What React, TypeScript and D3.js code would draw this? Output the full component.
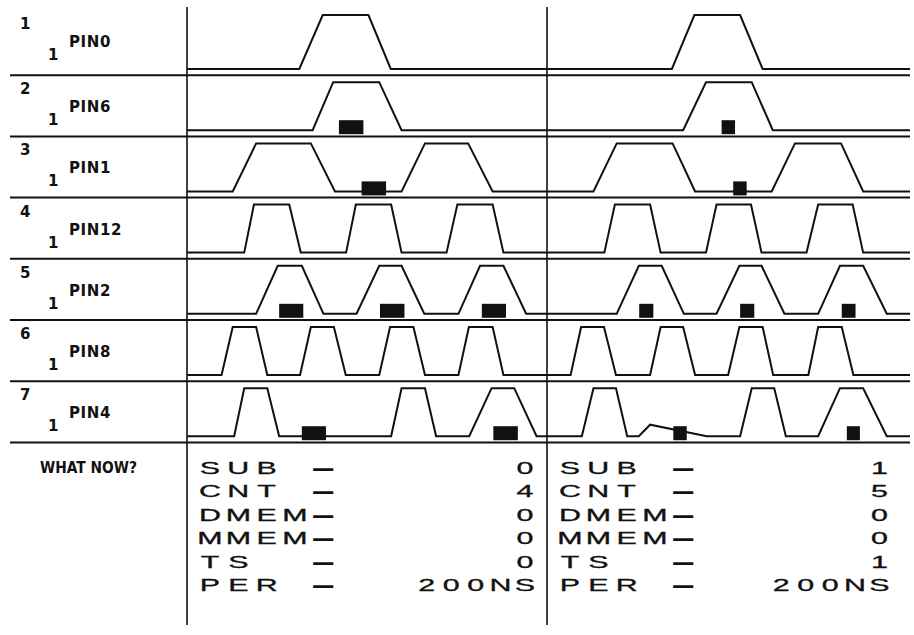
import React from "react";
import * as d3 from "d3";

// ---- data ----
const channelNumbers = ["1", "2", "3", "4", "5", "6", "7"];
const channelGroups = ["1", "1", "1", "1", "1", "1", "1"];
const channelNames = ["PIN0", "PIN6", "PIN1", "PIN12", "PIN2", "PIN8", "PIN4"];

// pulses per channel: [riseStart, highStart, highEnd, fallEnd] in time units (0-100 per screen)
const leftPulses: number[][][] = [
  [[31.2, 37.7, 50.4, 56.6]],
  [[34.9, 40.6, 53.4, 59.6]],
  [[12.7, 19.2, 34.4, 41.1], [59.6, 66.1, 78.1, 84.9]],
  [[15.9, 18.6, 28.4, 31.6], [44.2, 46.9, 56.7, 59.6], [72.1, 75.1, 84.9, 87.9]],
  [[19.2, 25.2, 31.9, 37.9], [47.1, 53.4, 59.6, 65.9], [75.4, 81.4, 87.9, 94.2]],
  [[9.6, 12.7, 19.2, 22.3], [31.4, 34.4, 40.8, 44.1], [53.4, 56.4, 62.9, 66.1], [75.4, 78.3, 84.9, 87.9]],
  [[13.1, 15.9, 22.3, 25.6], [56.7, 59.6, 66.1, 69.2], [78.4, 84.6, 90.9, 97.1]],
];
const rightPulses: number[][][] = [
  [[34.4, 40.6, 53.2, 59.4]],
  [[37.5, 43.8, 56.4, 62.2]],
  [[12.8, 19.2, 34.6, 40.8], [61.9, 68.3, 81.0, 87.1]],
  [[15.8, 18.7, 28.4, 31.3], [43.8, 46.7, 56.2, 59.1], [71.5, 74.7, 84.2, 87.1]],
  [[19.2, 25.3, 31.6, 37.7], [46.7, 53.0, 59.1, 65.4], [74.7, 80.7, 87.1, 93.6]],
  [[6.5, 9.4, 15.7, 19.0], [28.4, 31.3, 37.5, 40.8], [49.9, 53.0, 59.4, 62.3], [72.0, 74.7, 81.2, 84.4]],
  [[9.6, 12.8, 19.0, 22.1], [53.2, 56.4, 62.6, 65.8], [74.7, 80.7, 87.1, 93.6]],
];
// extra vertices (channel index, time, level) — the glitch on PIN4, right screen
const leftGlitch: number[][] = [];
const rightGlitch: number[][] = [
  [6, 25.3, 0],
  [6, 28.4, 0.24],
  [6, 44.0, 0],
];
// cursor blocks: [channel index, tStart, tEnd]
const leftCursors: number[][] = [
  [1, 42.2, 49.0],
  [2, 48.5, 55.3],
  [4, 25.6, 32.3],
  [4, 53.6, 60.4],
  [4, 81.9, 88.6],
  [6, 31.9, 38.6],
  [6, 85.1, 91.9],
];
const rightCursors: number[][] = [
  [1, 48.1, 51.8],
  [2, 51.3, 55.0],
  [4, 25.4, 29.3],
  [4, 53.2, 57.1],
  [4, 81.2, 85.0],
  [6, 34.8, 38.5],
  [6, 82.6, 86.2],
];
const statusLabels = ["SUB", "CNT", "DMEM", "MMEM", "TS", "PER"];
const statusDash = "\u2013";
const leftStatus = ["0", "4", "0", "0", "0", "200NS"];
const rightStatus = ["1", "5", "0", "0", "1", "200NS"];
const promptText = "WHAT NOW?";

// ---- layout ----
const W = 914;
const H = 635;
const INK = "#111";
const rowStep = 61.2;
const rowsTop = 14;
const panelLeft = [187, 547];
const panelRight = [547, 910];

const rowBand = d3
  .scaleBand<string>()
  .domain(channelNames)
  .range([rowsTop, rowsTop + rowStep * channelNames.length])
  .padding(0);

const timeScales = [
  d3.scaleLinear().domain([0, 100]).range([panelLeft[0], panelRight[0]]),
  d3.scaleLinear().domain([0, 100]).range([panelLeft[1], panelRight[1]]),
];

function levelScale(i: number) {
  const top = rowBand(channelNames[i]) as number;
  const low = top + 55;
  const high = i === 0 ? top + 1 : top + 7;
  return d3.scaleLinear().domain([0, 1]).range([low, high]);
}

function wavePoints(pulses: number[][], glitch: number[][], i: number): [number, number][] {
  const pts: [number, number][] = [[0, 0]];
  pulses.forEach(([a, b, c, d]) => {
    pts.push([a, 0], [b, 1], [c, 1], [d, 0]);
  });
  glitch.filter((g) => g[0] === i).forEach((g) => pts.push([g[1], g[2]]));
  pts.push([100, 0]);
  pts.sort((p, q) => p[0] - q[0]);
  return pts;
}

const sansFont = "'Liberation Sans', Arial, sans-serif";
const boldFont = "'DejaVu Sans', 'Liberation Sans', sans-serif";

// text laid on a fixed character grid: each glyph centred in its cell,
// stretched horizontally by sx
function GridText(props: {
  text: string;
  center0: number;
  pitch: number;
  y: number;
  sx?: number;
  [k: string]: any;
}) {
  const { text, center0, pitch, y, sx = 1, ...rest } = props;
  const chars = Array.from(text);
  return (
    <g>
      {chars.map((ch, k) =>
        ch === " " ? null : (
          <g key={k} transform={`translate(${(center0 + pitch * k).toFixed(2)},${y}) scale(${sx},1)`}>
            <text x={0} y={0} textAnchor="middle" {...rest}>
              {ch}
            </text>
          </g>
        )
      )}
    </g>
  );
}

function Panel({ p }: { p: number }) {
  const xs = timeScales[p];
  const pulsesAll = p === 0 ? leftPulses : rightPulses;
  const glitch = p === 0 ? leftGlitch : rightGlitch;
  const cursors = p === 0 ? leftCursors : rightCursors;
  return (
    <g>
      {channelNames.map((name, i) => {
        const ys = levelScale(i);
        const line = d3
          .line<[number, number]>()
          .x((d) => xs(d[0]))
          .y((d) => ys(d[1]));
        return (
          <path
            key={name}
            d={line(wavePoints(pulsesAll[i], glitch, i)) || ""}
            fill="none"
            stroke={INK}
            strokeWidth={2}
            strokeLinejoin="miter"
          />
        );
      })}
      {cursors.map(([ci, t0, t1], k) => {
        const low = levelScale(ci)(0);
        return (
          <rect
            key={k}
            x={xs(t0)}
            y={low - 10}
            width={xs(t1) - xs(t0)}
            height={14}
            fill={INK}
          />
        );
      })}
    </g>
  );
}

function StatusBlock({ p }: { p: number }) {
  const values = p === 0 ? leftStatus : rightStatus;
  const labelC0 = panelLeft[p] + 23;
  const lastValueC = p === 0 ? 525 : 879.5;
  const fs = 16;
  const sx = 1.9;
  const labelPitch = 28.3;
  const valuePitch = 24.6;
  return (
    <g fontFamily={sansFont} fontSize={fs} fill={INK}>
      {statusLabels.map((lab, k) => {
        const y = 474 + 23.4 * k;
        const v = values[k];
        return (
          <g key={lab}>
            <GridText text={lab} center0={labelC0} pitch={labelPitch} y={y} sx={sx} stroke={INK} strokeWidth={0.3} />
            <GridText
              text={statusDash}
              center0={labelC0 + 4 * labelPitch}
              pitch={labelPitch}
              y={y}
              sx={sx}
              stroke={INK}
              strokeWidth={1.7}
            />
            <GridText
              text={v}
              center0={lastValueC - (v.length - 1) * valuePitch}
              pitch={valuePitch}
              y={y}
              sx={sx}
              stroke={INK}
              strokeWidth={0.3}
            />
          </g>
        );
      })}
    </g>
  );
}

export default function App() {
  const sepYs = channelNames.map((n) => (rowBand(n) as number) + rowStep);
  return (
    <svg
      width={W}
      height={H}
      viewBox={`0 0 ${W} ${H}`}
      style={{ position: "absolute", left: 0, top: 0, background: "#fff" }}
    >
      <rect x={0} y={0} width={W} height={H} fill="#fff" />
      {sepYs.map((y, i) => (
        <line key={i} x1={10} x2={910} y1={y} y2={y} stroke={INK} strokeWidth={2} />
      ))}
      {panelLeft.map((x, i) => (
        <line key={i} x1={x} x2={x} y1={7} y2={625} stroke={INK} strokeWidth={1.6} />
      ))}
      <g fontFamily={boldFont} fontWeight="bold" fontSize={15} fill={INK}>
        {channelNames.map((name, i) => {
          const top = i === 0 ? 10 : (rowBand(name) as number);
          return (
            <g key={name}>
              <text x={20} y={top + 19}>{channelNumbers[i]}</text>
              <text x={48} y={top + 50}>{channelGroups[i]}</text>
              <text x={69} y={top + 37} letterSpacing={0.6}>{name}</text>
            </g>
          );
        })}
        <text x={40} y={473} textLength={97} lengthAdjust="spacingAndGlyphs">
          {promptText}
        </text>
      </g>
      <Panel p={0} />
      <Panel p={1} />
      <StatusBlock p={0} />
      <StatusBlock p={1} />
    </svg>
  );
}
